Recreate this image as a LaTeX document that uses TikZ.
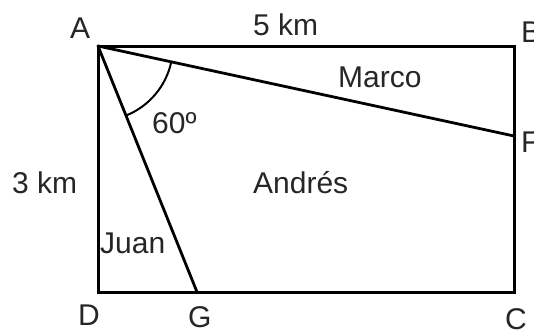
\documentclass[tikz,border=0pt]{standalone}
\usepackage{fontspec}
\setmainfont{Liberation Sans}
\begin{document}
\begin{tikzpicture}[x=1pt,y=-1pt,
  lbl/.style={inner sep=0pt,anchor=base west,font=\fontsize{30}{32}\selectfont,text=black!85},
  edge/.style={line width=3pt,line join=miter},
  seg/.style={line width=2.8pt,line cap=round}]
\useasboundingbox (0,0) rectangle (534,332);
\coordinate (A) at (98,46);
\coordinate (B) at (514,46);
\coordinate (C) at (514,292);
\coordinate (D) at (98,292);
\coordinate (F) at (514,136);
\coordinate (G) at (197,292);
\draw[edge] (A) -- (B) -- (C) -- (D) -- cycle;
\draw[seg] (A) -- (F);
\draw[seg] (A) -- (G);
\draw[line width=2pt] ([shift={(12.2:75)}]A) arc[start angle=12.2,end angle=68.1,radius=75];
\node[lbl] (la) at (70,38) {A};
\node[lbl] (lb) at (521,42) {B};
\node[lbl] (lf) at (521,152) {F};
\node[lbl] (lc) at (505,329) {C};
\node[lbl] (ld) at (78,325) {D};
\node[lbl] (lg) at (188,327) {G};
\node[lbl] (l5) at (253,35) {5 km};
\node[lbl] (l3) at (12,193) {3 km};
\node[lbl] (lm) at (338,87) {Marco};
\node[lbl] (lan) at (253,193) {Andrés};
\node[lbl] (lj) at (100,253) {Juan};
\node[lbl] (l60) at (152,133) {60º};
\end{tikzpicture}
\end{document}
